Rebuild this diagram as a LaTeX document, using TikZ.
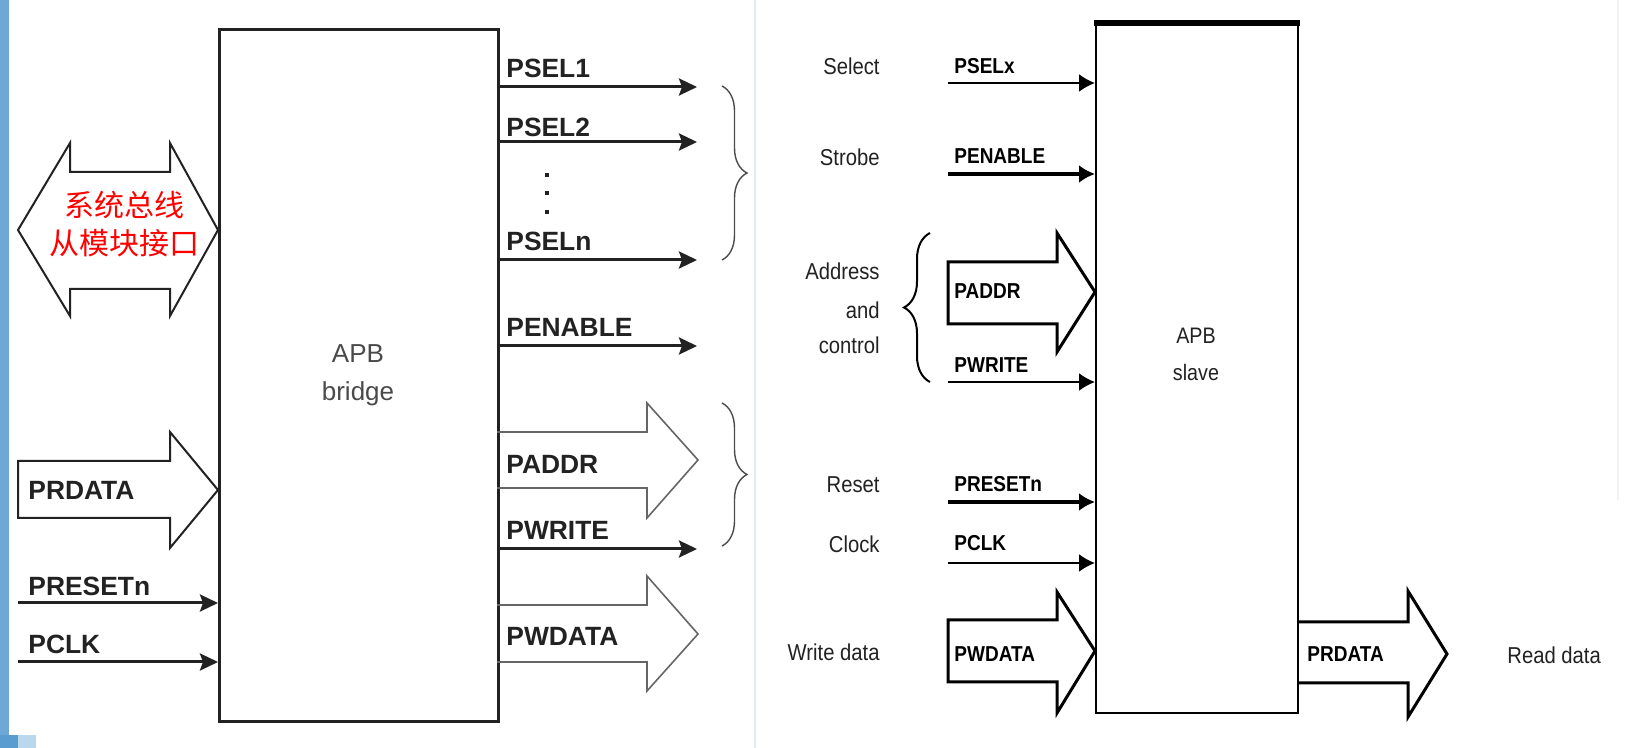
\documentclass[tikz,border=0pt]{standalone}
\usepackage{fontspec}
\setmainfont{Liberation Sans}
\newfontfamily\cjk{Noto Sans CJK SC}
\newfontfamily\narrowfont[FakeStretch=0.88]{Liberation Sans}
\usetikzlibrary{arrows.meta,decorations.pathreplacing}
\definecolor{ink}{HTML}{222222}
\definecolor{graytxt}{HTML}{4A4A4A}
\definecolor{barblue}{HTML}{6EA8D5}
\definecolor{barblue2}{HTML}{5A9BD0}
\definecolor{barlight}{HTML}{B9D8EE}
\definecolor{dividerc}{HTML}{DDEBF6}
\definecolor{redtxt}{HTML}{FF0000}
\begin{document}
\begin{tikzpicture}[x=0.5pt,y=-0.5pt,
  lbl/.style={font=\fontsize{13.2pt}{15pt}\selectfont\bfseries, text=ink, anchor=west, inner sep=0pt},
  rlbl/.style={font=\narrowfont\fontsize{10.8pt}{13pt}\selectfont\bfseries, text=black, anchor=west, inner sep=0pt},
  desc/.style={font=\narrowfont\fontsize{11.5pt}{14pt}\selectfont, text=ink, inner sep=0pt},
  boxtxt/.style={font=\fontsize{13pt}{19pt}\selectfont, text=graytxt, align=center, inner sep=0pt},
  slavetxt/.style={font=\narrowfont\fontsize{11.2pt}{18.5pt}\selectfont, text=ink, align=center, inner sep=0pt},
  larr/.style={line width=1.5pt, draw=ink, -{Stealth[length=9pt,width=8.5pt,inset=1.5pt]}},
  rarr/.style={line width=1pt, draw=black, -{Latex[length=8pt,width=9pt]}},
  rarrthick/.style={rarr, line width=1.6pt},
  fatl/.style={draw=ink, line width=1pt, line join=miter},
  fatg/.style={draw=black!60, line width=0.8pt, line join=miter},
  fatr/.style={draw=black, line width=1.5pt, line join=miter},
  brc/.style={draw=black!70, line width=0.7pt, decorate, decoration={brace, amplitude=12.5pt}},
]
\useasboundingbox (0,0) rectangle (1630,748);
\fill[white] (0,0) rectangle (1630,748);
% background artefacts
\fill[barblue] (0,0) rectangle (9,735);
\fill[barblue2] (0,735) rectangle (18,748);
\fill[barlight] (18,735) rectangle (36,748);
\draw[dividerc, line width=1pt] (755,0) -- (755,748);
\draw[black!5, line width=0.8pt] (1618,0) -- (1618,500);

% ================= LEFT: APB bridge =================
\node[draw=ink, line width=1.5pt, minimum width=139.5pt, minimum height=346pt, inner sep=0pt, anchor=north west] (bridge) at (218,28) {};
\node[boxtxt] (bridgelbl) at (358,375) {APB\\bridge};

% system bus double arrow
\draw[fatl] (18,230) -- (70,143) -- (70,172) -- (170,172) -- (170,143) -- (218,230) -- (170,316) -- (170,289) -- (70,289) -- (70,316) -- cycle;
\node[font=\cjk\fontsize{15pt}{19pt}\selectfont, text=redtxt, inner sep=0pt] (bus1) at (124,205) {系统总线};
\node[font=\cjk\fontsize{15pt}{19pt}\selectfont, text=redtxt, inner sep=0pt] (bus2) at (124,243) {从模块接口};

% PRDATA input
\draw[fatl] (18,461) -- (170,461) -- (170,432) -- (218,490) -- (170,548) -- (170,518) -- (18,518) -- cycle;
\node[lbl] (prdataL) at (28,490) {PRDATA};

% PRESETn, PCLK inputs
\node[lbl] (presetL) at (28,586) {PRESETn};
\coordinate (rsL) at (18,603);
\draw[larr] (rsL) -- (rsL -| bridge.west);
\node[lbl] (pclkL) at (28,644) {PCLK};
\coordinate (ckL) at (18,662);
\draw[larr] (ckL) -- (ckL -| bridge.west);

% outputs
\node[lbl] (psel1) at (506,68) {PSEL1};
\coordinate (o1) at (697,87);
\draw[larr] (o1 -| bridge.east) -- (o1);
\node[lbl] (psel2) at (506,127) {PSEL2};
\coordinate (o2) at (697,142);
\draw[larr] (o2 -| bridge.east) -- (o2);
\fill[ink] (545,173) rectangle (549,177);
\fill[ink] (545,191) rectangle (549,195);
\fill[ink] (545,210) rectangle (549,214);
\node[lbl] (pseln) at (506,241) {PSELn};
\coordinate (o3) at (697,260);
\draw[larr] (o3 -| bridge.east) -- (o3);
\node[lbl] (penL) at (506,327) {PENABLE};
\coordinate (o4) at (697,346);
\draw[larr] (o4 -| bridge.east) -- (o4);

\draw[fatg] (497,432) -- (647,432) -- (647,403) -- (698,460) -- (647,518) -- (647,488) -- (497,488);
\node[lbl] (paddrL) at (506,464) {PADDR};
\node[lbl] (pwriteL) at (506,530) {PWRITE};
\coordinate (o5) at (697,549);
\draw[larr] (o5 -| bridge.east) -- (o5);
\draw[fatg] (497,605) -- (647,605) -- (647,576) -- (698,634) -- (647,691) -- (647,662) -- (497,662);
\node[lbl] (pwdataL) at (506,636) {PWDATA};

% braces
\draw[brc] (722,86) -- (722,260);
\draw[brc] (722,403) -- (722,546);

% ================= RIGHT: APB slave =================
\node[draw=black, line width=1pt, minimum width=101pt, minimum height=344.5pt, inner sep=0pt, anchor=north west] (slave) at (1095,23) {};
\draw[line width=2.6pt] ([xshift=-0.5pt]slave.north west) -- ([xshift=0.5pt]slave.north east);
\node[slavetxt] (slavelbl) at (1196,354) {APB\\slave};

\node[desc, anchor=east] (sel) at (880,66) {Select};
\node[rlbl] (pselx) at (954,66) {PSELx};
\coordinate (i1) at (948,83);
\draw[rarr] (i1) -- (i1 -| slave.west);

\node[desc, anchor=east] (strobe) at (880,157) {Strobe};
\node[rlbl] (penR) at (954,156) {PENABLE};
\coordinate (i2) at (948,174);
\draw[rarrthick] (i2) -- (i2 -| slave.west);

\node[desc, anchor=east] (addr1) at (880,271) {Address};
\node[desc, anchor=east] (addr2) at (880,310) {and};
\node[desc, anchor=east] (addr3) at (880,345) {control};
\draw[brc, draw=black, line width=1pt, decoration={brace, amplitude=13pt}] (930,382) -- (930,233);

\draw[fatr] (948,262) -- (1057,262) -- (1057,233) -- (1095,292) -- (1057,352) -- (1057,324) -- (948,324) -- cycle;
\node[rlbl] (paddrR) at (954,291) {PADDR};
\node[rlbl] (pwriteR) at (954,365) {PWRITE};
\coordinate (i3) at (948,382);
\draw[rarr] (i3) -- (i3 -| slave.west);

\node[desc, anchor=east] (reset) at (880,485) {Reset};
\node[rlbl] (presetR) at (954,484) {PRESETn};
\coordinate (i4) at (948,502);
\draw[rarrthick] (i4) -- (i4 -| slave.west);

\node[desc, anchor=east] (clock) at (880,544) {Clock};
\node[rlbl] (pclkR) at (954,543) {PCLK};
\coordinate (i5) at (948,563);
\draw[rarr] (i5) -- (i5 -| slave.west);

\node[desc, anchor=east] (wdata) at (880,652) {Write data};
\draw[fatr] (948,620) -- (1057,620) -- (1057,592) -- (1095,651) -- (1057,713) -- (1057,682) -- (948,682) -- cycle;
\node[rlbl] (pwdataR) at (954,654) {PWDATA};

\draw[fatr] (1297,622) -- (1408,622) -- (1408,591) -- (1447,654) -- (1408,717) -- (1408,683) -- (1297,683);
\node[rlbl] (prdataR) at (1307,654) {PRDATA};
\node[desc, anchor=west] (rdata) at (1507,655) {Read data};
\end{tikzpicture}
\end{document}
